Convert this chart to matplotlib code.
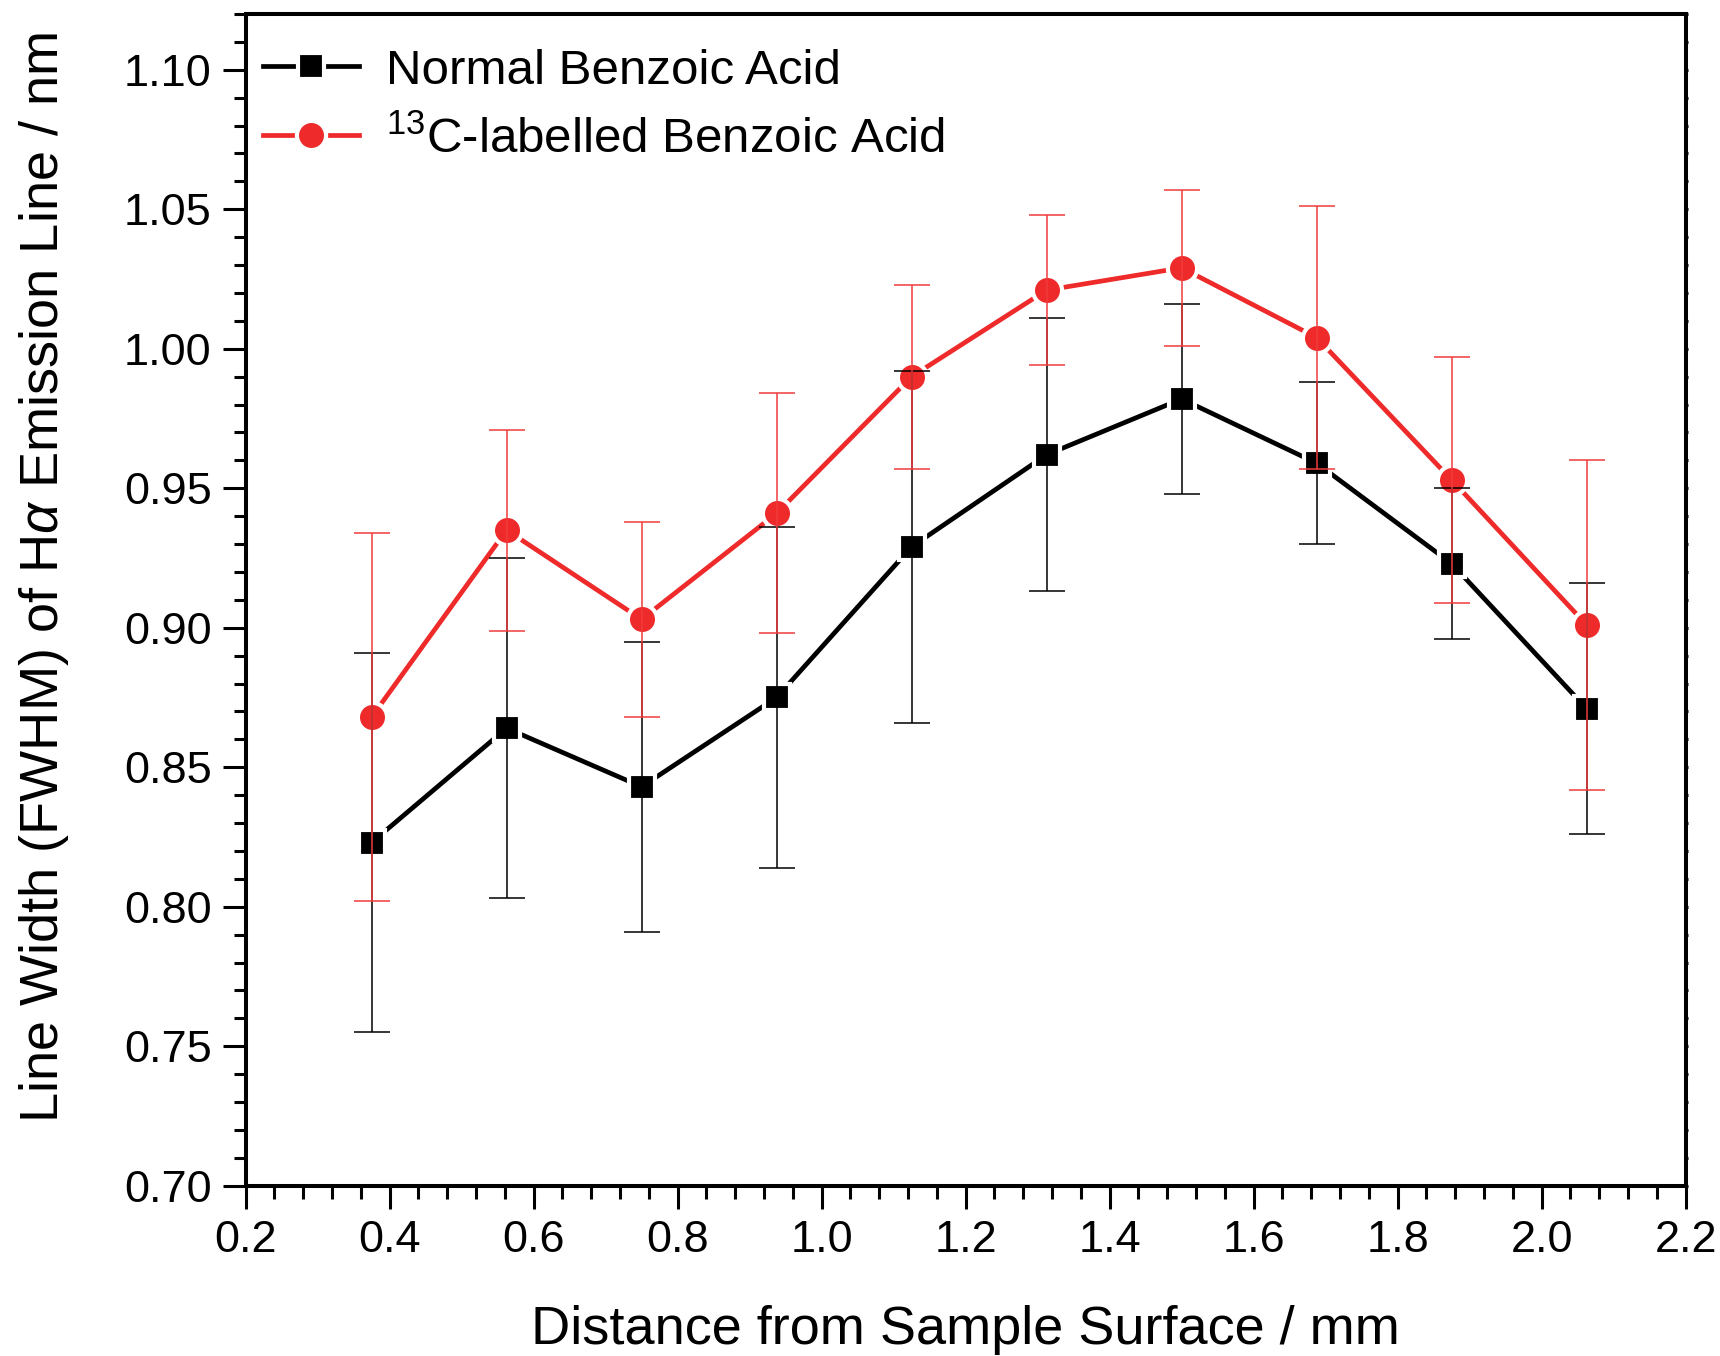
import matplotlib
matplotlib.use("Agg")
import matplotlib.pyplot as plt
from matplotlib.ticker import MultipleLocator, FormatStrFormatter

plt.rcParams['font.family'] = ['Liberation Sans', 'DejaVu Sans']
plt.rcParams['mathtext.fontset'] = 'custom'
plt.rcParams['mathtext.rm'] = 'Liberation Sans'
plt.rcParams['mathtext.it'] = 'Liberation Sans:italic'

# Abstand von der Probenoberfläche (mm)
distance = [0.375, 0.5625, 0.75, 0.9375, 1.125, 1.3125, 1.5, 1.6875, 1.875, 2.0625]

# normale Benzoesäure
normal = [0.823, 0.864, 0.843, 0.875, 0.929, 0.962, 0.982, 0.959, 0.923, 0.871]
normal_err = [0.068, 0.061, 0.052, 0.061, 0.063, 0.049, 0.034, 0.029, 0.027, 0.045]

# 13C-markierte Benzoesäure
labelled = [0.868, 0.935, 0.903, 0.941, 0.990, 1.021, 1.029, 1.004, 0.953, 0.901]
labelled_err = [0.066, 0.036, 0.035, 0.043, 0.033, 0.027, 0.028, 0.047, 0.044, 0.059]

red = '#EE2A2A'

fig = plt.figure(figsize=(17.2, 13.56), dpi=100)
ax = fig.add_axes([0.1428, 0.1256, 0.8372, 0.8641])

# Linien mit Markern (weißer Rand erzeugt die Lücke vor dem Marker)
ax.plot(distance, normal, color='black', lw=3.4, marker='s', ms=19, mfc='black',
        mec='white', mew=3, label='Normal Benzoic Acid', zorder=2)
ax.plot(distance, labelled, color=red, lw=3.4, marker='o', ms=21, mfc=red,
        mec='white', mew=3, label='$^{13}$C-labelled Benzoic Acid', zorder=2)

# Fehlerbalken
ax.errorbar(distance, normal, yerr=normal_err, fmt='none', ecolor='black',
            elinewidth=1.1, capsize=13, capthick=1.1, zorder=3)
ax.errorbar(distance, labelled, yerr=labelled_err, fmt='none', ecolor='#F03C3C',
            elinewidth=1.1, capsize=13, capthick=1.1, zorder=3)

ax.set_xlim(0.2, 2.2)
ax.set_ylim(0.70, 1.12)
ax.xaxis.set_major_locator(MultipleLocator(0.2))
ax.xaxis.set_minor_locator(MultipleLocator(0.04))
ax.yaxis.set_major_locator(MultipleLocator(0.05))
ax.yaxis.set_minor_locator(MultipleLocator(0.01))
ax.xaxis.set_major_formatter(FormatStrFormatter('%.1f'))
ax.yaxis.set_major_formatter(FormatStrFormatter('%.2f'))

for s in ax.spines.values():
    s.set_linewidth(2.9)

ax.tick_params(which='major', direction='out', length=16.5, width=2.2,
               labelsize=32.5, pad=8)
ax.tick_params(which='minor', direction='out', length=9, width=2.2)
ax.tick_params(which='both', top=True, right=True)
for t in ax.xaxis.get_ticklines(minor=True)[1::2] + ax.xaxis.get_ticklines()[1::2]:
    t.set_markersize(1.5)
for t in ax.yaxis.get_ticklines(minor=True)[1::2] + ax.yaxis.get_ticklines()[1::2]:
    t.set_markersize(1.5)

ax.set_xlabel('Distance from Sample Surface / mm', fontsize=39, labelpad=32)
ax.set_ylabel(r'Line Width (FWHM) of H$\alpha$ Emission Line / nm', fontsize=39)
ax.yaxis.set_label_coords(-0.121, 0.519)

ax.legend(loc='upper left', bbox_to_anchor=(-0.005, 0.9915), fontsize=35.5,
          frameon=False, handlelength=1.95, handletextpad=0.55,
          labelspacing=0.46, borderaxespad=0.3, borderpad=0.2)

fig.savefig('out.png', dpi=100)
